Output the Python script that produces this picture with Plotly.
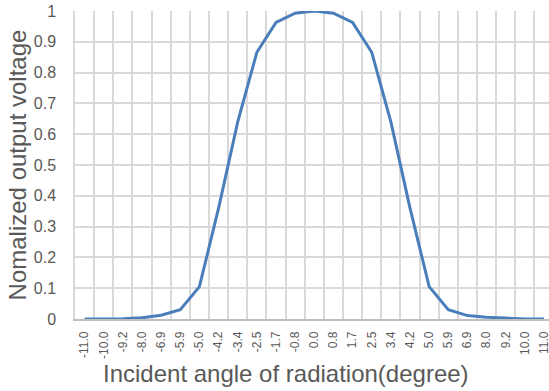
import plotly.graph_objects as go

angles = ["-11.0", "-10.0", "-9.2", "-8.0", "-6.9", "-5.9", "-5.0", "-4.2", "-3.4",
          "-2.5", "-1.7", "-0.8", "0.0", "0.8", "1.7", "2.5", "3.4", "4.2", "5.0",
          "5.9", "6.9", "8.0", "9.2", "10.0", "11.0"]
voltage = [0.0, 0.0, 0.001, 0.004, 0.012, 0.03, 0.105, 0.36, 0.64,
           0.866, 0.963, 0.993, 1.0, 0.993, 0.963, 0.866, 0.64, 0.36, 0.105,
           0.03, 0.011, 0.006, 0.002, 0.0, 0.0]
y_ticks = [0, 0.1, 0.2, 0.3, 0.4, 0.5, 0.6, 0.7, 0.8, 0.9, 1]

FONT = "Liberation Sans, Arial, sans-serif"
GREY = "#595959"
GRID = "#d9d9d9"

fig = go.Figure(go.Scatter(
    x=angles, y=voltage, mode="lines",
    line=dict(color="#4a7ebb", width=3),
    hoverinfo="x+y",
))

fig.update_layout(
    width=549, height=391,
    margin=dict(l=75, r=0, t=11, b=72, autoexpand=False),
    paper_bgcolor="white", plot_bgcolor="white",
    showlegend=False,
    font=dict(family=FONT, color=GREY),
    xaxis=dict(
        type="category",
        categoryorder="array", categoryarray=angles,
        range=[-0.5, 24.26],
        automargin=False,
        tickson="boundaries",
        showgrid=True, gridcolor=GRID, gridwidth=1.5,
        showline=True, linecolor="#bfbfbf", linewidth=1.5,
        ticks="", tickangle=-90,
        tickfont=dict(size=12, color=GREY, family=FONT),
        ticklabelstandoff=6,
    ),
    yaxis=dict(
        range=[0, 1],
        automargin=False,
        tickvals=y_ticks,
        ticktext=[("%g" % v) for v in y_ticks],
        showgrid=True, gridcolor=GRID, gridwidth=1.5,
        showline=True, linecolor=GRID, linewidth=1.5,
        zeroline=False,
        ticks="",
        tickfont=dict(size=16, color=GREY, family=FONT),
        ticklabelstandoff=14,
        title=dict(text="Nomalized output voltage",
                   font=dict(size=24, color=GREY, family=FONT), standoff=0),
    ),
    annotations=[dict(
        text="Incident angle of radiation(degree)",
        xref="paper", yref="paper", x=0.446, y=0,
        xanchor="center", yanchor="middle", yshift=-54,
        showarrow=False,
        font=dict(size=24, color=GREY, family=FONT),
    )],
)

fig.write_html(
    "out.html",
    config={"displayModeBar": False},
    post_script="document.body.style.margin='0';document.body.style.overflow='hidden';",
)
